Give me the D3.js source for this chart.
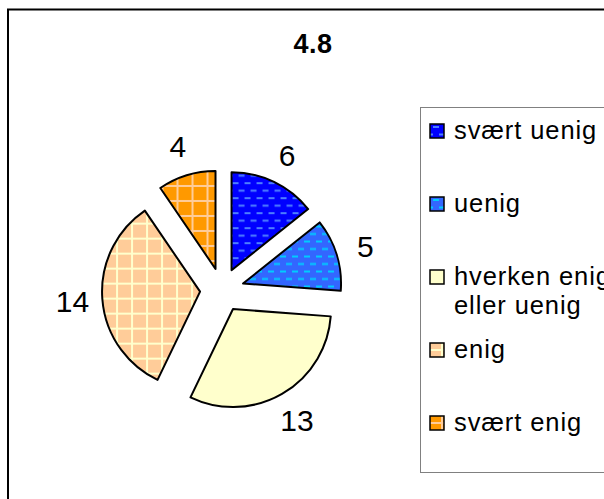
<!DOCTYPE html>
<html>
<head>
<meta charset="utf-8">
<script src="https://cdn.jsdelivr.net/npm/d3@7"></script>
<style>
  body { margin: 0; background: #fff; }
  svg { display: block; font-family: "Liberation Sans", Arial, sans-serif; }
</style>
</head>
<body>
<div id="container"></div>
<script>
/* DATA */
const title = "4.8";
const categories = ["svært uenig", "uenig", "hverken enig eller uenig", "enig", "svært enig"];
const values = [6, 5, 13, 14, 4];

/* CONSTANTS */
const width = 604, height = 499;
const center = [222, 290], radius = 98, explode = 22, labelRadius = 150;

// fill colour and pattern for each slice
const styles = [
  { id: "p0", base: "#0000ff", line: "#4d7fff", kind: "dash" },
  { id: "p1", base: "#3366ff", line: "#00ccff", kind: "dash" },
  { id: "p2", base: "#ffffcc", line: null, kind: "plain" },
  { id: "p3", base: "#ffcc99", line: "#ffffcc", kind: "grid" },
  { id: "p4", base: "#ff9900", line: "#ffcc99", kind: "grid" }
];

const svg = d3.select("#container")
  .append("svg")
  .attr("width", width)
  .attr("height", height);

// PATTERNS
const defs = svg.append("defs");
styles.forEach(s => {
  if (s.kind === "plain") return;
  const p = defs.append("pattern")
    .attr("id", s.id)
    .attr("patternUnits", "userSpaceOnUse");
  if (s.kind === "dash") {
    p.attr("width", 12).attr("height", 15);
    p.append("rect").attr("width", 12).attr("height", 15).attr("fill", s.base);
    p.append("rect").attr("x", 1).attr("y", 2).attr("width", 6).attr("height", 2).attr("fill", s.line);
    p.append("rect").attr("x", 7).attr("y", 9.5).attr("width", 6).attr("height", 2).attr("fill", s.line);
    p.append("rect").attr("x", -5).attr("y", 9.5).attr("width", 6).attr("height", 2).attr("fill", s.line);
  } else {
    p.attr("width", 15).attr("height", 15);
    p.append("rect").attr("width", 15).attr("height", 15).attr("fill", s.base);
    p.append("rect").attr("x", 0).attr("y", 6).attr("width", 15).attr("height", 2).attr("fill", s.line);
    p.append("rect").attr("x", 6).attr("y", 0).attr("width", 2).attr("height", 15).attr("fill", s.line);
  }
});
const fillOf = i => styles[i].kind === "plain" ? styles[i].base : `url(#${styles[i].id})`;

// OUTER FRAME
svg.append("rect")
  .attr("x", 8).attr("y", 9.5)
  .attr("width", 700).attr("height", 600)
  .attr("fill", "none")
  .attr("stroke", "#000")
  .attr("stroke-width", 2);

// TITLE
svg.append("text")
  .attr("x", 313).attr("y", 53)
  .attr("text-anchor", "middle")
  .attr("font-size", 27)
  .attr("letter-spacing", 0.5)
  .attr("font-weight", "bold")
  .text(title);

// PIE
const pie = d3.pie().sort(null).value(d => d)(values);
const arc = d3.arc().innerRadius(0).outerRadius(radius);
const mid = d => (d.startAngle + d.endAngle) / 2;

const slices = svg.append("g")
  .attr("transform", `translate(${center[0]},${center[1]})`);

slices.selectAll("path.slice")
  .data(pie)
  .join("path")
  .attr("class", "slice")
  .attr("d", arc)
  .attr("transform", d => `translate(${explode * Math.sin(mid(d))},${-explode * Math.cos(mid(d))})`)
  .attr("fill", (d, i) => fillOf(i))
  .attr("stroke", "#000")
  .attr("stroke-width", 2)
  .attr("stroke-linejoin", "round");

// DATA LABELS
slices.selectAll("text.label")
  .data(pie)
  .join("text")
  .attr("class", "label")
  .attr("x", d => labelRadius * Math.sin(mid(d)))
  .attr("y", d => -labelRadius * Math.cos(mid(d)))
  .attr("dy", "0.36em")
  .attr("text-anchor", "middle")
  .attr("font-size", 30)
  .text(d => d.data);

// LEGEND
svg.append("rect")
  .attr("x", 420.5).attr("y", 107.5)
  .attr("width", 300).attr("height", 365)
  .attr("fill", "#fff")
  .attr("stroke", "#808080")
  .attr("stroke-width", 1);

// break long legend entries into two lines at the space nearest the middle
const wrap = s => {
  if (s.length <= 14) return [s];
  let best = -1;
  [...s].forEach((c, i) => {
    if (c === " " && (best < 0 || Math.abs(i - s.length / 2) < Math.abs(best - s.length / 2))) best = i;
  });
  return [s.slice(0, best), s.slice(best + 1)];
};

const legendY = d3.scalePoint().domain(categories).range([139, 431]);

const items = svg.selectAll("g.legend-item")
  .data(categories)
  .join("g")
  .attr("class", "legend-item")
  .attr("transform", d => `translate(0,${legendY(d)})`);

items.append("rect")
  .attr("x", 430).attr("y", -15)
  .attr("width", 14).attr("height", 14)
  .attr("fill", (d, i) => fillOf(i))
  .attr("stroke", "#000")
  .attr("stroke-width", 1.5);

items.append("text")
  .attr("x", 454)
  .attr("font-size", 25.5)
  .attr("letter-spacing", 0.9)
  .selectAll("tspan")
  .data(d => wrap(d))
  .join("tspan")
  .attr("x", 454)
  .attr("dy", (d, i) => i === 0 ? 0 : 28.5)
  .text(d => d);
</script>
</body>
</html>
